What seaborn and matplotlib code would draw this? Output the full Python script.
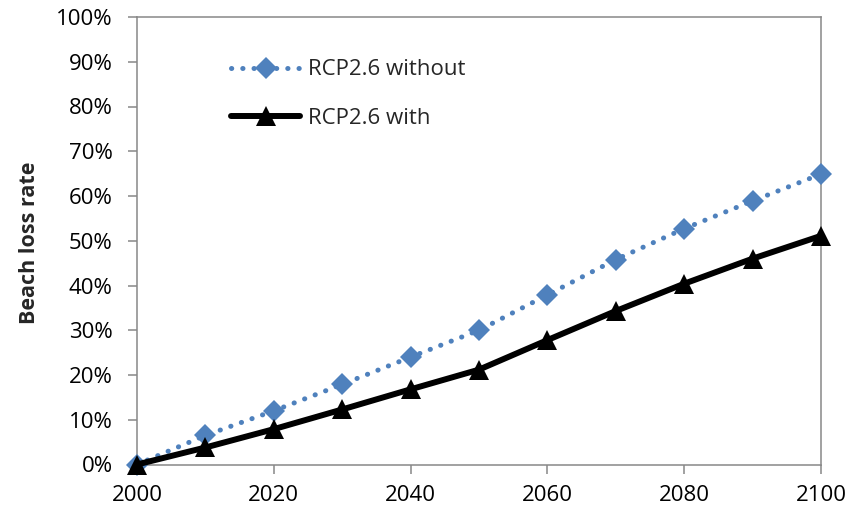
import matplotlib
matplotlib.use("Agg")
import matplotlib.pyplot as plt
from matplotlib.ticker import FuncFormatter, MultipleLocator
import pandas as pd
import seaborn as sns

# Projection years and beach loss rates (%)
years = [2000, 2010, 2020, 2030, 2040, 2050, 2060, 2070, 2080, 2090, 2100]
rcp26_without = [0.0, 6.5, 12.0, 17.9, 24.0, 30.0, 37.9, 45.8, 52.7, 58.9, 64.9]
rcp26_with = [0.0, 3.8, 7.9, 12.3, 16.8, 21.2, 27.8, 34.3, 40.4, 46.0, 51.1]
series_labels = ["RCP2.6 without", "RCP2.6 with"]
x_ticks = [2000, 2020, 2040, 2060, 2080, 2100]

sns.set_theme(style="white")
plt.rcParams["font.family"] = ["Open Sans", "DejaVu Sans"]

df = pd.DataFrame({
    "year": years,
    "without": [v / 100 for v in rcp26_without],
    "with": [v / 100 for v in rcp26_with],
})

fig = plt.figure(figsize=(8.64, 5.12), dpi=100)
ax = fig.add_axes([137 / 864, 1 - 464.5 / 512, (821 - 137) / 864, (464.5 - 17) / 512])

blue = "#4F81BD"
sns.lineplot(data=df, x="year", y="without", ax=ax, color=blue,
             linewidth=3.6, linestyle=(0, (0.05, 2.2)),
             marker="D", markersize=11, markeredgewidth=0,
             label=series_labels[0], zorder=3)
ax.lines[-1].set_dash_capstyle("round")
sns.lineplot(data=df, x="year", y="with", ax=ax, color="black",
             linewidth=4.3, marker="^", markersize=14, markeredgewidth=0,
             label=series_labels[1], zorder=4)

ax.set_xlim(2000, 2100)
ax.set_ylim(0, 1)
ax.set_xticks(x_ticks)
ax.yaxis.set_major_locator(MultipleLocator(0.1))
ax.yaxis.set_major_formatter(FuncFormatter(lambda v, _: f"{v * 100:.0f}%"))
ax.set_xlabel("")
ax.set_ylabel("Beach loss rate", fontsize=15.5, fontweight="bold")
ax.yaxis.set_label_coords(-0.142, 0.495)

for s in ax.spines.values():
    s.set_color("#888888")
    s.set_linewidth(1.1)
ax.tick_params(axis="both", which="major", direction="out", length=6.5,
               width=1.1, color="#888888", labelsize=16, labelcolor="black")
ax.tick_params(axis="y", pad=11)
ax.tick_params(axis="x", pad=8)
ax.tick_params(left=True, bottom=True)
for ln in ax.lines:
    ln.set_clip_on(False)

leg = ax.legend(loc="upper left", bbox_to_anchor=(0.125, 0.925), frameon=False,
                fontsize=16, handlelength=3.1, handletextpad=0.35,
                labelspacing=1.25, borderaxespad=0)
for h in leg.get_lines():
    h.set_clip_on(False)

fig.savefig("out.png", dpi=100)
